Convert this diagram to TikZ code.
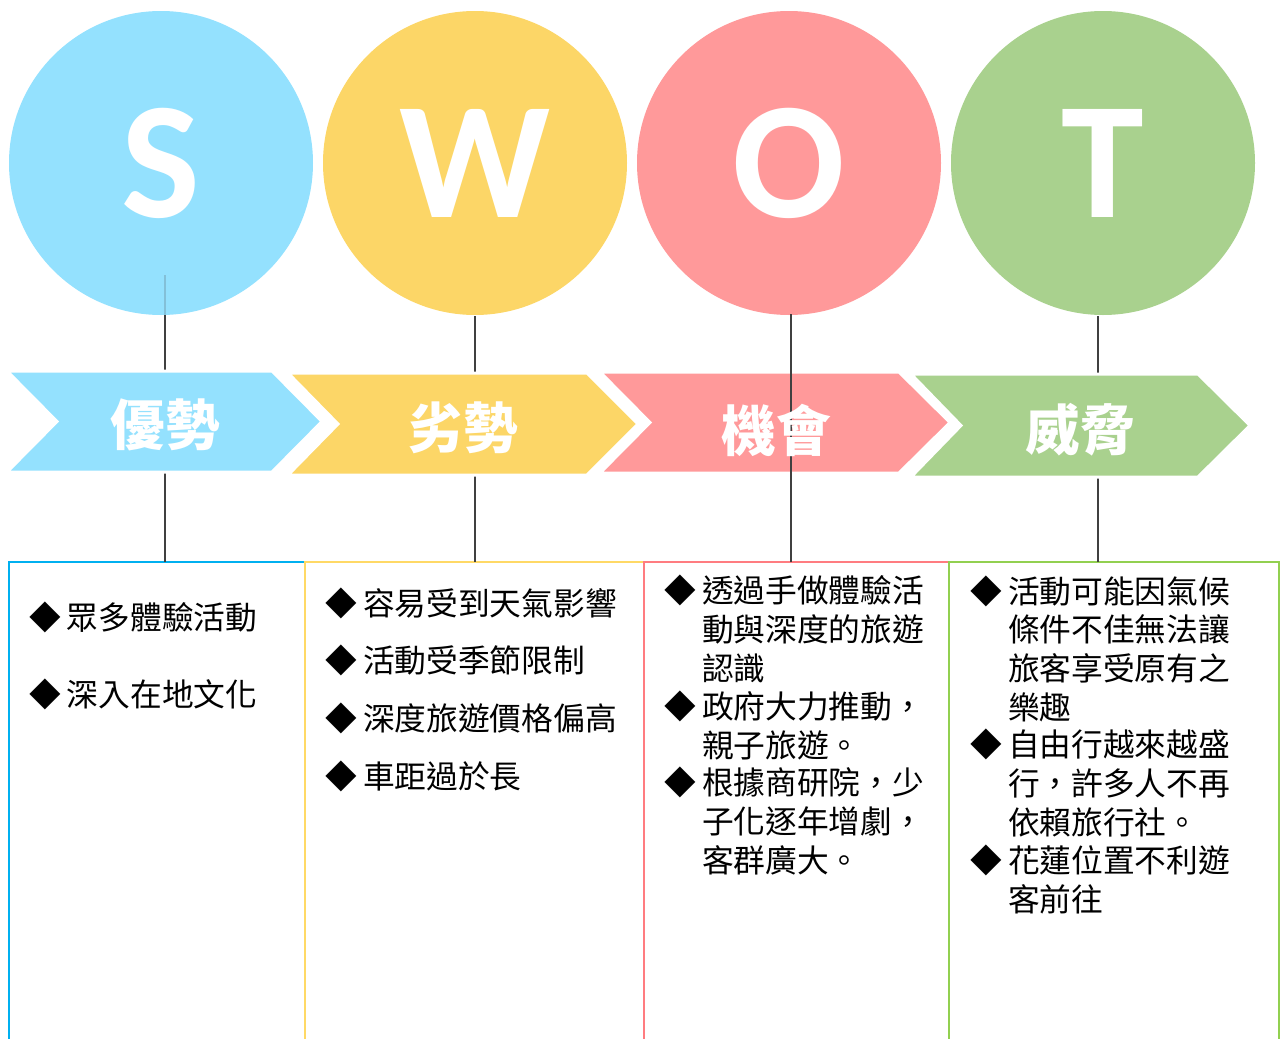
\documentclass[tikz,border=0pt]{standalone}
\usepackage{fontspec}
\newfontfamily\cjk{Noto Sans CJK TC}
\newfontfamily\letterfont{Carlito}

\definecolor{sFill}{HTML}{94E1FE}
\definecolor{wFill}{HTML}{FCD667}
\definecolor{oFill}{HTML}{FF999A}
\definecolor{tFill}{HTML}{A9D18E}
\definecolor{sLine}{HTML}{00B0F0}
\definecolor{wLine}{HTML}{FFD966}
\definecolor{oLine}{HTML}{FF7C80}
\definecolor{tLine}{HTML}{92D050}
\definecolor{darkLine}{HTML}{404040}

\newcommand{\bul}{◆\hspace{4.5pt}}
\newcommand{\hb}{\hphantom{\bul}}

\tikzset{
  bigcircle/.style={circle, minimum size=228pt, inner sep=0pt, text=white,
    font=\letterfont\bfseries\fontsize{125}{125}\selectfont},
  chev/.style={draw=white, line width=2.25pt, line join=miter},
  chevtext/.style={text=white, inner sep=0pt, font=\cjk\bfseries\fontsize{41}{41}\selectfont},
  conn/.style={draw=darkLine, line width=1.8pt},
  box/.style={draw=#1, line width=1.5pt, rectangle, anchor=north west,
    inner sep=0pt, outer sep=0pt, minimum height=390pt},
  itm/.style={anchor=base west, inner sep=0pt, align=left,
    font=\cjk\fontsize{23.8}{28.9}\selectfont}
}

\begin{document}
\begin{tikzpicture}[x=0.75pt,y=0.75pt,yscale=-1,xscale=1]
\useasboundingbox (0,0) rectangle (1286,1039);

% Boxes
\node[box=sLine, minimum width=222pt] (sBox) at (9,562) {};
\node[box=wLine, minimum width=254.25pt] (wBox) at (305,562) {};
\node[box=oLine, minimum width=228.75pt] (oBox) at (644,562) {};
\node[box=tLine, minimum width=247.5pt] (tBox) at (949,562) {};

% Connector starts
\coordinate (sTop) at (165,275);
\coordinate (wTop) at (475,316);
\coordinate (oTop) at (791,314);
\coordinate (tTop) at (1098,316);

% Circles
\node[bigcircle, fill=sFill] (sC) at (161,163) {S};
\node[bigcircle, fill=wFill] (wC) at (475,163) {W};
\node[bigcircle, fill=oFill] (oC) at (789,163) {O};
\node[bigcircle, fill=tFill] (tC) at (1103,163) {T};

% Connectors behind the arrows
\draw[conn, opacity=.2] (sTop) -- (sTop |- sC.south);
\draw[conn] (sTop |- sC.south) -- (sTop |- sBox.north);
\draw[conn] (wTop) -- (wTop |- wBox.north);
\draw[conn] (tTop) -- (tTop |- tBox.north);

% Arrows
\filldraw[chev, fill=tFill] (911,374) -- (1198,374) -- (1250,425.5) -- (1198,477) -- (911,477) -- (961,425.5) -- cycle;
\filldraw[chev, fill=oFill] (600,372) -- (899,372) -- (950,422.5) -- (899,473) -- (600,473) -- (650,422.5) -- cycle;
\filldraw[chev, fill=wFill] (288,373) -- (587,373) -- (638,424) -- (587,475) -- (288,475) -- (338,424) -- cycle;
\filldraw[chev, fill=sFill] (7,371) -- (272,371) -- (322,421.5) -- (272,472) -- (7,472) -- (57,421.5) -- cycle;

% Connector over the arrow
\draw[conn] (oTop) -- (oTop |- oBox.north);

% Arrow labels
\node[chevtext] (sLabel) at (165,425) {優勢};
\node[chevtext] (wLabel) at (463,428) {劣勢};
\node[chevtext] (oLabel) at (776,430) {機會};
\node[chevtext] (tLabel) at (1080,430) {威脅};

% Strengths
\node[itm] (s1) at (29,629) {\bul 眾多體驗活動};
\node[itm] (s2) at (29,706) {\bul 深入在地文化};

% Weaknesses
\node[itm] (w1) at (325,615) {\bul 容易受到天氣影響};
\node[itm] (w2) at (325,672) {\bul 活動受季節限制};
\node[itm] (w3) at (325,730) {\bul 深度旅遊價格偏高};
\node[itm] (w4) at (325,788) {\bul 車距過於長};

% Opportunities (base = last line)
\node[itm] (o1) at (664,680) {\bul 透過手做體驗活\\\hb 動與深度的旅遊\\\hb 認識};
\node[itm] (o2) at (664,757) {\bul 政府大力推動，\\\hb 親子旅遊。};
\node[itm] (o3) at (664,872) {\bul 根據商研院，少\\\hb 子化逐年增劇，\\\hb 客群廣大。};

% Threats (base = last line)
\node[itm] (t1) at (970,719) {\bul 活動可能因氣候\\\hb 條件不佳無法讓\\\hb 旅客享受原有之\\\hb 樂趣};
\node[itm] (t2) at (970,834) {\bul 自由行越來越盛\\\hb 行，許多人不再\\\hb 依賴旅行社。};
\node[itm] (t3) at (970,911) {\bul 花蓮位置不利遊\\\hb 客前往};

\end{tikzpicture}
\end{document}
